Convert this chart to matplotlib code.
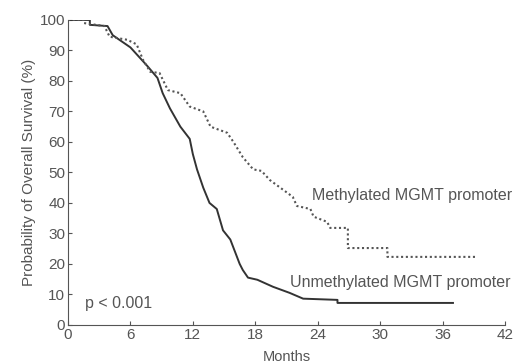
import matplotlib.pyplot as plt

# Kaplan-Meier curves (months, % surviving)
unmeth_months = [0, 2.1, 2.1, 3.8, 4.3, 6.0, 7.6, 8.6, 9.1, 9.8, 10.8, 11.7, 12.0,
                 12.4, 13.0, 13.6, 14.3, 14.9, 15.6, 16.5, 16.8, 17.3, 18.2, 19.7,
                 21.3, 22.6, 25.9, 25.9, 37.0]
unmeth_surv = [100, 100, 98.4, 98, 95, 91, 85, 81, 76, 71, 65, 61, 56,
               51, 45, 40, 38, 31, 28, 20, 18, 15.5, 14.8, 12.5,
               10.5, 8.6, 8.2, 7.2, 7.2]

meth_months = [0, 1.5, 1.5, 3.5, 4.0, 5.7, 6.6, 7.2, 7.9, 8.8, 9.6, 10.8, 11.7,
               13.0, 13.7, 15.3, 15.9, 16.8, 17.8, 18.6, 19.4, 20.4, 21.6, 22.0,
               23.3, 23.6, 24.9, 25.2, 26.9, 26.9, 30.7, 30.7, 39.3]
meth_surv = [100, 100, 99, 98, 94.5, 93.5, 92, 87, 83, 82.6, 77, 76, 71.6,
             70, 65, 63, 60, 55, 51, 50.5, 47.5, 45, 42, 39,
             38, 35.5, 33.8, 31.8, 31.8, 25.2, 25.2, 22.3, 22.3]

x_ticks = [0, 6, 12, 18, 24, 30, 36, 42]
y_ticks = [0, 10, 20, 30, 40, 50, 60, 70, 80, 90, 100]

plt.rcParams['font.family'] = ['Liberation Sans', 'DejaVu Sans']
grey = '#555555'

fig = plt.figure(figsize=(5.19, 3.63), dpi=100)
ax = fig.add_axes((0.131, 0.105, 0.842, 0.84))

ax.plot(unmeth_months, unmeth_surv, color='#333333', lw=1.4)
ax.plot(meth_months, meth_surv, color='#555555', lw=1.5, linestyle=(0, (1, 1.3)))

ax.set_xlim(0, 42)
ax.set_ylim(0, 100)
ax.set_xticks(x_ticks)
ax.set_yticks(y_ticks)
ax.tick_params(direction='in', length=3, color=grey, labelcolor=grey,
               labelsize=11, pad=2)
ax.spines[['top', 'right']].set_visible(False)
for s in ['left', 'bottom']:
    ax.spines[s].set_color(grey)

ax.set_xlabel('Months', color=grey, fontsize=10.5, labelpad=6)
ax.set_ylabel('Probability of Overall Survival (%)', color=grey, fontsize=11,
              labelpad=3)

ax.text(23.5, 42.3, 'Methylated MGMT promoter', color=grey, fontsize=11.5,
        va='center')
ax.text(21.3, 13.8, 'Unmethylated MGMT promoter', color=grey, fontsize=11.5,
        va='center')
ax.text(1.6, 7.0, 'p < 0.001', color=grey, fontsize=11.5, va='center')

fig.savefig('out.png', dpi=100)
